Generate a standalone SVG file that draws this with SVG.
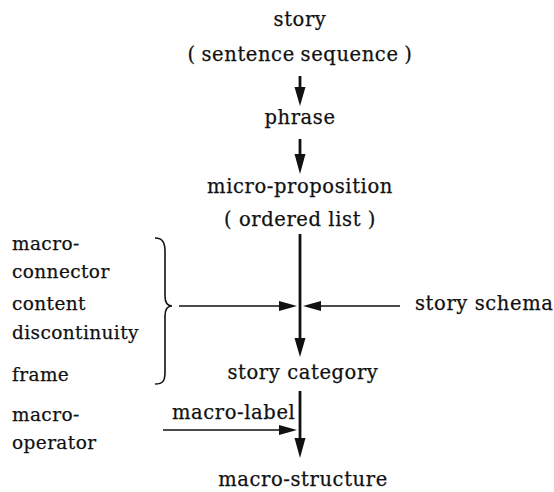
<svg xmlns="http://www.w3.org/2000/svg" width="554" height="492" viewBox="0 0 554 492">
<defs>
<style>
text{font-family:"DejaVu Serif","Liberation Serif",serif;font-size:19.5px;letter-spacing:0.6px;fill:#111;stroke:#111;stroke-width:0.25}
.c{text-anchor:middle}
.l{font-size:18.5px;letter-spacing:0.4px}
.ln{stroke:#111;stroke-width:2.8;fill:none}
.th{stroke:#111;stroke-width:1.6;fill:none}
.hd{fill:#111}
</style>
</defs>
<rect width="554" height="492" fill="#fff"/>
<g id="connectors">
<line class="ln" x1="300" y1="76" x2="300" y2="88"/>
<path class="hd" d="M294.5,87 L305.5,87 L300,106 z"/>
<line class="ln" x1="300" y1="139" x2="300" y2="155"/>
<path class="hd" d="M294.5,154 L305.5,154 L300,174 z"/>
<line class="ln" x1="300" y1="234" x2="300" y2="340"/>
<path class="hd" d="M294.5,338 L305.5,338 L300,357 z"/>
<line class="th" x1="179" y1="306" x2="282" y2="306"/>
<path class="hd" d="M279,301 L297,306 L279,311 z"/>
<line class="th" x1="400" y1="306" x2="318" y2="306"/>
<path class="hd" d="M321,301 L303,306 L321,311 z"/>
<path class="th" d="M155,238 C163,238 165,243 165,252 L165,296 C165,302 167,306 172,306 C167,306 165,310 165,316 L165,372 C165,381 163,384 155,384"/>
<line class="ln" x1="300" y1="391" x2="300" y2="440"/>
<path class="hd" d="M294.5,438 L305.5,438 L300,458 z"/>
<line class="th" x1="163" y1="430" x2="282" y2="430"/>
<path class="hd" d="M279,425 L297,430 L279,435 z"/>
</g>
<g id="story"><text class="c" x="300" y="26">story</text><text class="c" x="300" y="61" word-spacing="-1">( sentence sequence )</text></g>
<g id="phrase"><text class="c" x="300" y="124">phrase</text></g>
<g id="micro-proposition"><text class="c" x="300" y="193">micro-proposition</text><text class="c" x="300" y="226">( ordered list )</text></g>
<g id="left-inputs"><text class="l" x="12" y="250">macro-</text><text class="l" x="12" y="278">connector</text><text class="l" x="12" y="310">content</text><text class="l" x="12" y="339">discontinuity</text><text class="l" x="12" y="381">frame</text></g>
<g id="story-schema"><text x="415" y="310">story schema</text></g>
<g id="story-category"><text class="c" x="303" y="379">story category</text></g>
<g id="macro-operator"><text class="l" x="12" y="421">macro-</text><text class="l" x="12" y="449">operator</text></g>
<g id="macro-label"><text x="172" y="419">macro-label</text></g>
<g id="macro-structure"><text class="c" x="303" y="486">macro-structure</text></g>
</svg>
